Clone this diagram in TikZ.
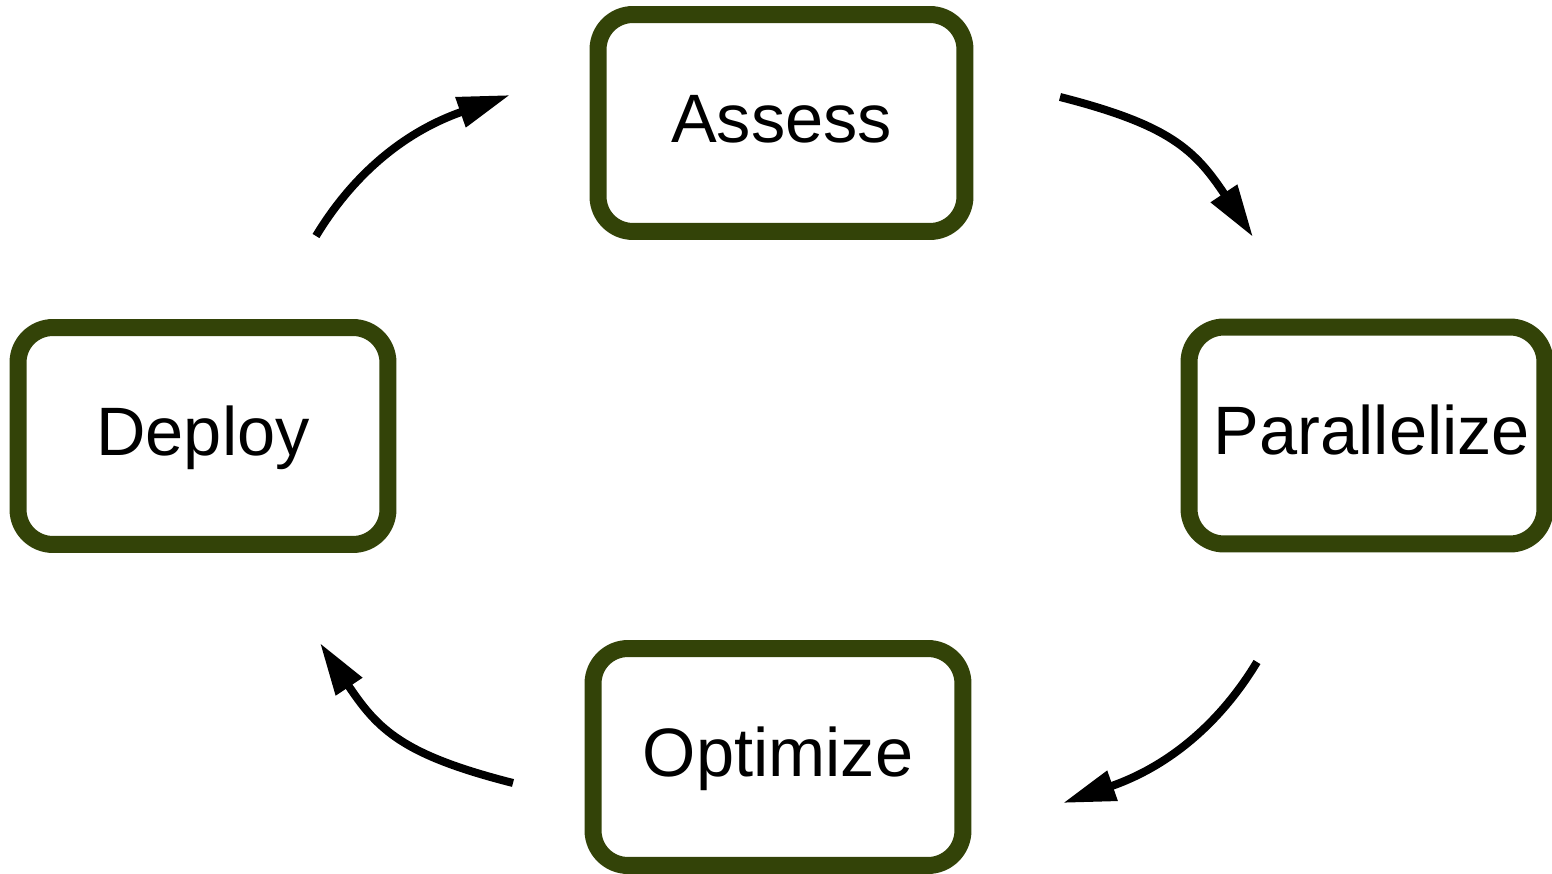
\documentclass[tikz,border=0pt]{standalone}
\usepackage{fontspec}
\setmainfont{Liberation Sans}
\usetikzlibrary{arrows.meta}
\definecolor{stageolive}{RGB}{51,67,8}

\begin{document}
\begin{tikzpicture}[x=0.02cm, y=-0.02cm,
    stage/.style={draw=stageolive, line width=0.34cm, rounded corners=0.7cm,
      minimum height=4.34cm, outer sep=0pt, inner sep=0pt,
      text height=0.98cm, text depth=0.2cm,
      font=\fontsize{39}{44}\selectfont},
    cycle/.style={line width=0.16cm, -{Triangle[length=1.05cm, width=0.6cm]}}]
    \useasboundingbox (0,0) rectangle (1552,874);
    \node[stage, minimum width=7.34cm] (assess) at (781.5, 123) {Assess};
    \node[stage, minimum width=7.12cm] (par) at (1367, 435.5) {\hspace{0.2cm}Parallelize};
    \node[stage, minimum width=7.40cm] (opt) at (778, 757) {Optimize};
    \node[stage, minimum width=7.40cm] (dep) at (203, 436) {Deploy};
    \coordinate (as-out) at (1060, 97);
    \coordinate (par-in) at (1253, 237);
    \coordinate (par-out) at (1257, 662);
    \coordinate (opt-in) at (1063, 803);
    \coordinate (opt-out) at (513, 783);
    \coordinate (dep-in) at (320, 643);
    \coordinate (dep-out) at (316, 236);
    \coordinate (as-in) at (510, 95);
    \draw [cycle] (as-out) .. controls (1170, 125) and (1195, 150) .. (par-in);
    \draw [cycle] (par-out) .. controls (1222, 720) and (1172, 765) .. (opt-in);
    \draw [cycle] (opt-out) .. controls (403, 755) and (378, 730) .. (dep-in);
    \draw [cycle] (dep-out) .. controls (351, 178) and (401, 133) .. (as-in);
  \end{tikzpicture}
\end{document}
